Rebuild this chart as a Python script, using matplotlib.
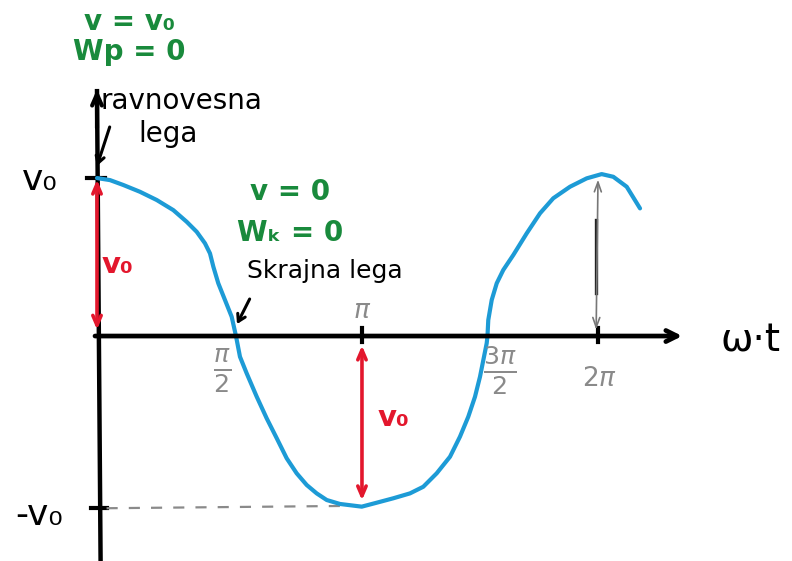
import numpy as np
import matplotlib
matplotlib.use("Agg")
import matplotlib.pyplot as plt

# velocity curve v(wt), traced by hand: phase (as drawn) and v / v0
phase = [0.0, 0.163, 0.330, 0.539, 0.749, 0.957, 1.125, 1.250, 1.354, 1.417,
         1.459, 1.521, 1.605, 1.689, 1.743, 1.793, 1.877, 2.003, 2.128, 2.254,
         2.379, 2.504, 2.630, 2.755, 2.881, 3.047, 3.320, 3.508, 3.716, 3.925,
         4.092, 4.260, 4.427, 4.552, 4.656, 4.740, 4.803, 4.845, 4.887, 4.897,
         4.907, 4.950, 5.013, 5.095, 5.221, 5.389, 5.556, 5.722, 5.932, 6.141,
         6.329, 6.475, 6.643, 6.810]
v_rel = [1.0, 0.987, 0.956, 0.913, 0.861, 0.797, 0.723, 0.660, 0.587, 0.523,
         0.439, 0.334, 0.228, 0.122, 0.0, -0.131, -0.236, -0.384, -0.521, -0.647,
         -0.774, -0.869, -0.943, -0.996, -1.038, -1.063, -1.080, -1.055, -1.027, -0.996,
         -0.954, -0.869, -0.764, -0.637, -0.511, -0.385, -0.258, -0.152, -0.046, 0.0,
         0.101, 0.228, 0.334, 0.418, 0.513, 0.650, 0.777, 0.872, 0.945, 0.998,
         1.025, 1.008, 0.945, 0.808]

# hand-drawn tick positions on the wt axis
tick_pos = [1.731, 3.323, 4.891, 6.283]
tick_labels = [r"$\frac{\pi}{2}$", r"$\pi$", r"$\frac{3\pi}{2}$", r"$2\pi$"]
v_max = 1.0
v_min = -1.09

BLUE = "#1d9bd6"
RED = "#e3172d"
GREEN = "#198a3c"
GRAY = "#8a8a8a"

fig = plt.figure(figsize=(7.92, 5.61), dpi=100)
ax = fig.add_axes([0, 0, 1, 1])
ax.set_xlim(-1.2165, 8.716)
ax.set_ylim(-1.424, 2.127)
ax.set_axis_off()

# axes with arrow heads
ax.plot([0.0, 0.045], [1.55, -1.424], color="black", lw=3.2)
ax.annotate("", xy=(0.0, 1.58), xytext=(0.0, 1.3),
            arrowprops=dict(arrowstyle="->,head_length=0.8,head_width=0.35", lw=3.0, color="black"))
ax.annotate("", xy=(7.374, 0.0), xytext=(-0.06, 0.0),
            arrowprops=dict(arrowstyle="->,head_length=0.8,head_width=0.4", lw=3.4, color="black"))

# ticks on the axes
ax.plot([-0.12, 0.1], [v_max, v_max], color="black", lw=3)
ax.plot([-0.07, 0.12], [v_min, v_min], color="black", lw=3)
for xp in tick_pos[1::2]:
    ax.plot([xp, xp], [-0.04, 0.05], color="black", lw=3)

# dashed guide at -v0
ax.plot([0.12, 3.2], [v_min, v_min + 0.015], color=GRAY, lw=1.6, ls=(0, (5, 5)))

# the velocity curve
ax.plot(phase, v_rel, color=BLUE, lw=3, solid_capstyle="round", solid_joinstyle="round")

# amplitude arrows
arrow_red = dict(arrowstyle="<->,head_length=0.7,head_width=0.3", lw=2.6, color=RED,
                 shrinkA=0, shrinkB=0)
ax.annotate("", xy=(0.0, 0.99), xytext=(0.0, 0.04), arrowprops=arrow_red)
ax.annotate("", xy=(3.323, -0.06), xytext=(3.323, -1.04), arrowprops=arrow_red)
ax.annotate("", xy=(6.283, 0.99), xytext=(6.26, 0.04),
            arrowprops=dict(arrowstyle="<->,head_length=0.7,head_width=0.25", lw=1.2,
                            color="#777777", shrinkA=0, shrinkB=0))
ax.plot([6.258, 6.258], [0.734, 0.272], color="#222222", lw=2.4)

# tick labels
ax.text(tick_pos[0] - 0.16, -0.22, tick_labels[0], color=GRAY, fontsize=26,
        ha="center", va="center")
ax.text(tick_pos[1], 0.16, tick_labels[1], color=GRAY, fontsize=19, ha="center", va="center")
ax.text(tick_pos[2] + 0.16, -0.22, tick_labels[2], color=GRAY, fontsize=26,
        ha="center", va="center")
ax.text(tick_pos[3] + 0.02, -0.27, tick_labels[3], color=GRAY, fontsize=19,
        ha="center", va="center")

# axis labels
ax.text(8.19, -0.03, "ω·t", fontsize=28, ha="center", va="center")
ax.text(-0.72, 0.99, "v₀", fontsize=26, ha="center", va="center")
ax.text(-0.72, -1.13, "-v₀", fontsize=26, ha="center", va="center")

# red amplitude labels
ax.text(0.26, 0.45, "v₀", color=RED, fontsize=21, fontweight="bold", ha="center", va="center")
ax.text(3.72, -0.52, "v₀", color=RED, fontsize=21, fontweight="bold", ha="center", va="center")

# equilibrium position
ax.text(0.41, 1.99, "v = v₀", color=GREEN, fontsize=20, fontweight="bold",
        ha="center", va="center")
ax.text(0.41, 1.80, "Wp = 0", color=GREEN, fontsize=20, fontweight="bold",
        ha="center", va="center")
ax.text(0.05, 1.49, "ravnovesna", fontsize=20, ha="left", va="center")
ax.text(0.89, 1.28, "lega", fontsize=20, ha="center", va="center")
ax.annotate("", xy=(-0.01, 1.06), xytext=(0.17, 1.34),
            arrowprops=dict(arrowstyle="->,head_length=0.5,head_width=0.3", lw=2.2, color="black"))

# turning point
ax.text(2.42, 0.91, "v = 0", color=GREEN, fontsize=20, fontweight="bold",
        ha="center", va="center")
ax.text(2.42, 0.65, "Wₖ = 0", color=GREEN, fontsize=20, fontweight="bold",
        ha="center", va="center")
ax.text(2.86, 0.41, "Skrajna lega", fontsize=18, ha="center", va="center")
ax.annotate("", xy=(1.74, 0.06), xytext=(1.93, 0.25),
            arrowprops=dict(arrowstyle="->,head_length=0.5,head_width=0.3", lw=2.2, color="black"))

fig.savefig("out.png", dpi=100)
